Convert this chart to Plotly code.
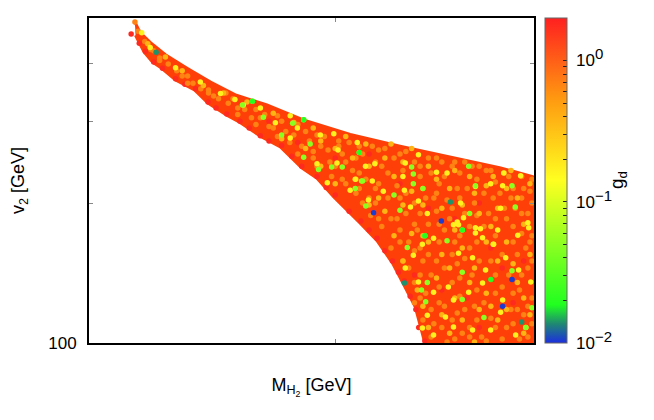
import numpy as np
import plotly.graph_objects as go

# Outline of the dense point cloud (GeV)
cloud_x = [56.9, 57.7, 59.4, 62, 65.9, 70.4, 75.7, 82.5, 91.4, 104.3, 120, 138.3, 159.3, 175,
           175, 128.7, 125.3, 121, 117.5, 112.5, 107.3, 99.6, 95, 91, 85.7, 81.4, 76.5, 73.7, 69.9,
           67.3, 63.8, 61.1, 59.8, 58.4, 57]
cloud_y = [490, 466, 443, 417, 390, 364, 341, 325, 302, 281, 265, 251, 238, 227.5,
           100, 100, 119.5, 134.6, 148.5, 166, 181, 206, 226, 238, 264, 277, 298, 309, 328,
           350, 368, 392, 402, 422, 459]
cloud_g = 1.3

# Individually visible points, grouped by the g_d level they show
red_g = 1.8
red_x = [128.7,126.5,125.5,123.5,121.5,119.5,117.5,115,112.5,110,107.5,104,100,97.5,95,91,88.5,86,83,81,78.5,76.5,73.7,71.5,69.9,
         67.5,65.5,63.8,61.5,60,58.6,57.6,56.3,150,140,130,120,110,100,90,83,145,160,170,135,150,165,155,125]
red_y = [101,108,118,126,136,142,150,158,168,175,183,192,208,216,228,240,252,266,272,279,290,300,311,320,330,
         352,360,370,390,402,424,441,462,200,185,195,220,255,250,270,300,125,145,150,130,108,122,160,140]
orange_g = 0.68
orange_x = [174,174,174,174,174,174,170,169,171,168,170,168,163,164,162,165,163,164,162,155,156,154,155,157,155,153,
            147,148,146,147,148,146,140,141,139,140,141,139,141,140,133,134,132,134,133,134,132,
            127,128,127,126,128,127,125,120,121,120,119,120,121,113,114,113,112,113,107,106,107,107,108,
            101,102,100,102,95,96,94,90,89,91,85,84,85,80,81,75,76,70,71,65,66,60,61,56.9,57.4,
            58.5,59.5,61,62.5,64,66,67,68.5,70,72,73.5,74,76,77.5,79,80,82,83,86,87,88,90,92,93,94,95,97,98,98.5,99,
            101,103,103,104,105,106,108,109,110,110.5,111,112,112,114,115,116,116,117,117,118,119,120,122,122,122,123,123,
            125,125,125,125,125,127,127,127,128,129,129,130,130,130,131,131,131,131,133,133,134,134,135,135,136,136,136,136,
            137,137,138,139,139,139,142,142,142,142,142,143,144,144,144,144,145,146,146,149,149,149,149,149,150,150,151,
            152,152,152,153,157,157,157,157,157,159,160,160,160,161,161,165,165,165,165,166,167,167,169,169,169,169,
            172,172,172,172,173,173]
orange_y = [225,200,170,150,125,110,215,190,160,130,115,102,228,205,185,165,140,118,108,235,205,190,150,128,113,101,
            240,200,160,140,120,103,245,215,195,165,148,135,116,102,250,220,205,180,150,122,110,
            240,215,190,175,150,125,122,255,235,205,185,165,150,260,240,220,200,185,265,250,232,215,200,
            272,255,240,225,280,265,250,295,280,265,308,290,278,318,305,335,320,350,340,375,362,425,405,490,468,
            445,428,410,398,385,375,362,352,345,335,345,328,310,318,305,295,310,292,300,285,270,255,285,272,258,240,278,260,245,228,
            265,245,220,270,235,210,255,225,205,188,265,245,215,178,262,232,205,185,160,250,218,175,258,210,190,165,145,
            245,200,180,158,135,228,160,140,112,205,128,250,180,155,232,140,118,103,210,192,165,132,245,108,228,175,145,120,
            203,100.5,185,240,155,112,232,205,170,138,126,105,245,190,152,118,215,178,108,225,188,165,130,112,240,150,103,
            210,178,122,235,222,185,170,140,108,210,155,132,102,232,195,215,178,128,110,195,155,118,228,205,172,140,
            190,145,120,103,212,165]
amber_g = 0.38
amber_x = [59,62,65,69,73,78,84,86,89,92,94,96,96,100,100,103,105,106,109,110,110,113,115,115,117,118,118,121,121,121,
           124,124,124,126,128,128,128,130,130,130,133,133,135,135,135,138,138,138,140,140,140,143,143,143,146,146,148,148,148,
           150,150,153,153,153,155,155,156,158,158,158,162,162,162,164,165,167,167,170,170,170,173,173,173]
amber_y = [440,412,385,358,345,330,312,275,298,262,290,272,240,262,220,278,250,225,268,240,198,205,250,192,268,228,170,245,198,150,
           262,212,172,130,198,170,120,240,165,108,225,138,195,155,115,215,145,105,235,175,125,198,160,112,228,135,210,145,100.5,
           190,118,218,165,128,178,120,228,195,150,112,215,165,118,235,148,205,135,180,125,105,220,155,115]
yellow_g = 0.17
yellow_x = [127.8,131.9,141.5,148.4,158,156.2,167.2,172.4,124.6,121.8,126.4,137.5,131.9,139.5,145.6,151.4,160.2,152.7,147.2,141.5,
            161.6,167.6,173.4,171,166.2,154.9,147.2,139.5,131.9,127.8,129.6,136.4,159.3,
            160.2,160.7,168.5,154.9,159.3,172,150.5,143.5,141,139.5,151.4,156,148.4,142.3,148.4,
            126.4,121.8,111.8,121,121.5,126.4,133,137,111,114.5,109.8,129.6,123.6,
            84.5,88.1,89.9,95.9,100.8,106.4,99.6,77.2,100.5,95,105.8,97.8,104.3,108.9,
            68.4,58,59.4,63.8,72.4,81,75.4,88.1]
yellow_y = [163,168,179.5,177,175,163,170.5,177,154.5,145,135.3,132,128.6,123.7,128.6,134.6,123.7,143.5,152.5,156,
            152.5,143.5,135.3,108,104,106.6,106.6,108.2,104,107.7,114.8,113.7,116.5,
            218,232,229,220,195,181.5,176,186,182,179.5,168.5,163,172.5,200,217,
            254,244,243,228,213,202,233,232,223,212,203,190,196,
            297.5,276,290,280,260,270,282,325,244,243,225,221,213,240,
            364,465,432,391,344,320,334,308]
lime_g = 0.05
lime_x = [143,137,128.7,122.5,143,129.6,127.5,143,152,129,174,164.5,171,145.6,166,146,164.5,148.4,
          124,124.6,118,120,107.7,109,128,124.6,91.5,79.2,86,107,108,102,99,95.4,91.5,93.2,81.7,77,88.7,105.8]
lime_y = [175,166,170,160.5,142,135,130,124,113.5,122.7,119,143,108,240,196,190,218,218,
          239,231,208,193,223,197,215,220,302,331,280,257,223,239,239,236,251,268,306,325,297,215]
green_g = 0.02
green_x = [155, 143, 128.7, 79.2, 91.5, 107]
green_y = [137, 175, 170, 331, 302, 257]
teal_g = 0.014
teal_x = [169, 138.3, 60.4, 121.5]
teal_y = [111, 201, 422, 134.6]
blue_g = 0.0105
blue_x = [111.4, 164.5, 160.2, 134.8]
blue_y = [190.5, 137, 120, 183]

groups = [(red_x, red_y, red_g), (orange_x, orange_y, orange_g), (amber_x, amber_y, amber_g),
          (yellow_x, yellow_y, yellow_g), (lime_x, lime_y, lime_g),
          (green_x, green_y, green_g), (teal_x, teal_y, teal_g), (blue_x, blue_y, blue_g)]
pt_x = [v for g in groups for v in g[0]]
pt_y = [v for g in groups for v in g[1]]
pt_c = [np.log10(g[2]) for g in groups for _ in g[0]]

scale = [[0, "#1c2ee0"], [0.06, "#1f8a70"], [0.117, "#20ff20"], [0.5, "#ffff20"], [0.75, "#ff9a10"], [1, "#ff2020"]]
c_min, c_max = -2, np.log10(2)
cloud_color = "#ff3f08"

exp = '<sup><span style="font-size:15px">%s</span></sup>'
major = {-2: "\u00a010" + exp % "−2", -1: "\u00a010" + exp % "−1", 0: "\u00a010" + exp % "0"}
cb_vals, cb_text = [], []
for d in (-2, -1, 0):
    for m in range(1, 10):
        v = d + np.log10(m)
        if v <= c_max:
            cb_vals.append(v)
            cb_text.append(major[d] if m == 1 else "")

FONT = "Liberation Sans"
fig = go.Figure()
fig.add_trace(go.Scatter(
    x=cloud_x, y=cloud_y, mode="lines", fill="toself", cliponaxis=False,
    fillcolor=cloud_color, line=dict(color=cloud_color, width=3), hoverinfo="skip", showlegend=False))
fig.add_trace(go.Scatter(
    x=pt_x, y=pt_y, mode="markers", cliponaxis=False, showlegend=False,
    marker=dict(size=5.5, color=pt_c, cmin=c_min, cmax=c_max, colorscale=scale, line=dict(width=0),
                colorbar=dict(x=1.0247, xanchor="left", y=0.5, len=1, lenmode="fraction", thickness=22,
                              thicknessmode="pixels", tickmode="array", tickvals=cb_vals, ticktext=cb_text,
                              ticks="inside", ticklen=4, tickcolor="#222", tickwidth=1,
                              outlinecolor="#666", outlinewidth=1, xpad=0, ypad=0,
                              tickfont=dict(family=FONT, size=17, color="black")))))
axis = dict(type="log", showgrid=False, zeroline=False, showline=True, linecolor="black", linewidth=2,
            mirror="ticks", ticks="inside", ticklen=4, tickcolor="#888", tickwidth=1)
fig.update_xaxes(axis, range=[np.log10(50), np.log10(175)], tickmode="array", tickvals=[100], showticklabels=False,
                 title=dict(text="M<sub>H<sub>2</sub></sub> [GeV]", standoff=34,
                            font=dict(family=FONT, size=18, color="black")))
fig.update_yaxes(axis, range=[2, np.log10(500)], tickmode="array", tickvals=[100],
                 ticklabelstandoff=7, tickfont=dict(family=FONT, size=17, color="black"),
                 minor=dict(tickmode="array", tickvals=[200, 300, 400], ticks="inside", ticklen=4,
                            tickcolor="#888", tickwidth=1, showgrid=False),
                 title=dict(text="v<sub>2</sub> [GeV]", standoff=24, font=dict(family=FONT, size=18, color="black")))
fig.add_annotation(text="g<sub>d</sub>", x=(618 - 89) / 445, y=(343 - 180) / 325, xref="paper", yref="paper",
                   xanchor="center", yanchor="middle",
                   showarrow=False, textangle=-90, font=dict(family=FONT, size=19, color="black"))
fig.update_layout(width=646, height=412, margin=dict(l=81, r=120, t=10, b=77, autoexpand=False),
                  plot_bgcolor="white", paper_bgcolor="white", font=dict(family=FONT))
fig.write_html("out.html")
